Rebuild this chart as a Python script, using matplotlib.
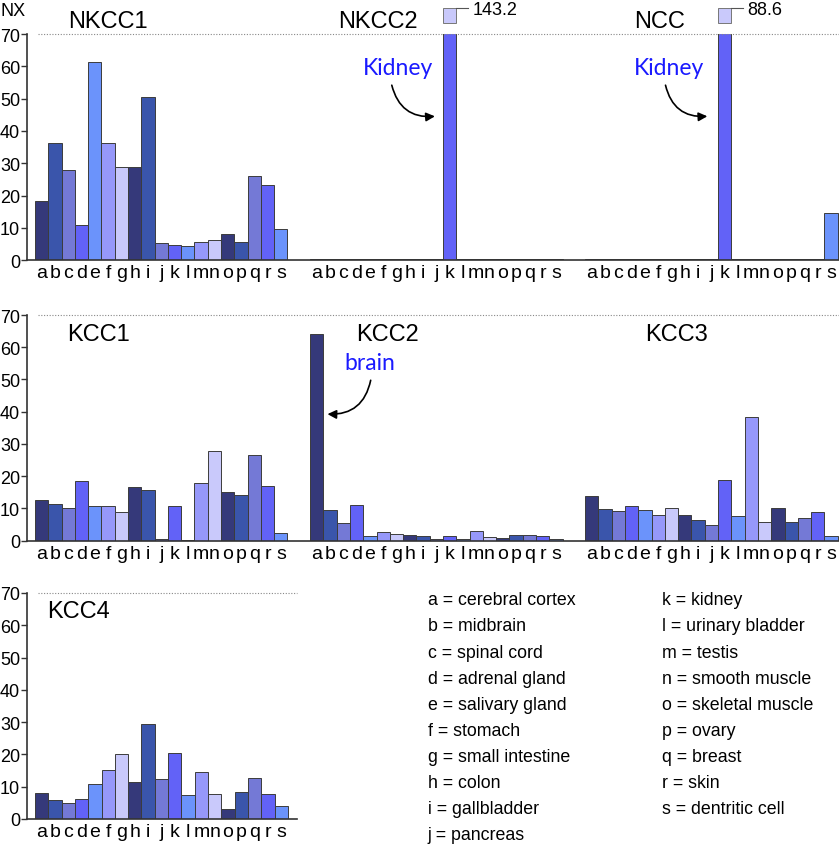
#!/usr/bin/env python3
# -*- coding: utf-8 -*-
"""
NX expression of the cation-chloride cotransporters across tissues
(NKCC1, NKCC2, NCC, KCC1-4), one block of bars per gene.
"""

import numpy as np
import matplotlib.pyplot as plt

plt.rcParams['font.family'] = ['Liberation Sans', 'DejaVu Sans']

# tissue letters and names
tissues = list('abcdefghijklmnopqrs')
tissue_names = ['cerebral cortex', 'midbrain', 'spinal cord', 'adrenal gland',
                'salivary gland', 'stomach', 'small intestine', 'colon',
                'gallbladder', 'pancreas', 'kidney', 'urinary bladder',
                'testis', 'smooth muscle', 'skeletal muscle', 'ovary',
                'breast', 'skin', 'dentritic cell']

# NX values
nkcc1 = [18.4, 36.2, 27.8, 10.9, 61.3, 36.4, 28.7, 28.7, 50.4, 5.3,
         4.6, 4.3, 5.5, 6.2, 8.1, 5.6, 26.0, 23.2, 9.7]
nkcc2 = [0.2, 0.4, 0.4, 0.4, 0.3, 0.2, 0.2, 0.2, 0.2, 0.2,
         143.2, 0.4, 0.4, 0.2, 0.2, 0.3, 0.3, 0.2, 0.2]
ncc = [0.2, 0.3, 0.4, 0.4, 0.3, 0.2, 0.2, 0.2, 0.2, 0.2,
       88.6, 0.4, 0.4, 0.2, 0.2, 0.2, 0.2, 0.2, 14.5]
kcc1 = [12.7, 11.4, 10.0, 18.4, 10.9, 10.9, 8.8, 16.5, 15.6, 0.6,
        10.8, 0.2, 17.8, 27.8, 15.0, 14.2, 26.6, 16.9, 2.4]
kcc2 = [64.1, 9.5, 5.6, 11.0, 1.4, 2.6, 2.0, 1.9, 1.4, 0.5,
        1.4, 0.5, 2.9, 1.0, 0.8, 1.9, 1.7, 1.3, 0.5]
kcc3 = [14.0, 9.7, 9.2, 10.9, 9.4, 7.9, 10.0, 7.9, 6.5, 5.0,
        18.7, 7.5, 38.3, 5.9, 10.2, 5.9, 7.0, 8.8, 1.3]
kcc4 = [8.2, 5.8, 4.9, 6.3, 10.8, 15.1, 20.1, 11.3, 29.3, 12.4,
        20.4, 7.3, 14.5, 7.7, 3.0, 8.3, 12.7, 7.7, 4.0]

# palette repeats every 7 tissues
cores = ['#35397a', '#3a55ab', '#7479d6', '#6262f7', '#6b93fb', '#9698fa', '#c9c9fb']

GAP = 20.7      # offset between gene blocks (in bar widths)
Y_MAX = 70
AZUL = '#1a1aff'


def painel(ax, genes, titulos, tit_x, tit_y, x_max):
    ax.set_xlim(-1.1, x_max)
    ax.set_ylim(0, Y_MAX)
    for s in ['top', 'right']:
        ax.spines[s].set_visible(False)
    for s in ['left', 'bottom']:
        ax.spines[s].set_color('#333333')
        ax.spines[s].set_linewidth(1.2)

    ticks, labels = [], []
    for i, vals in enumerate(genes):
        x = np.arange(len(vals)) + i * GAP
        ax.bar(x, vals, width=1.0, color=[cores[j % 7] for j in range(len(vals))],
               edgecolor='#3c3c3c', linewidth=0.7)
        ax.text(tit_x[i] + i * GAP, tit_y, titulos[i], fontsize=17,
                ha='center', va='center', clip_on=False)
        ticks += list(x)
        labels += tissues

    ax.set_xticks(ticks)
    ax.set_xticklabels(labels, fontsize=14)
    ax.tick_params(axis='x', length=0, pad=3)
    ax.set_yticks(range(0, 71, 10))
    ax.tick_params(axis='y', labelsize=13, length=4, width=1, color='#333333', pad=1)
    # dotted reference line at the top of the scale
    ax.hlines(Y_MAX, -0.3, x_max, colors='#888888', linestyles=(0, (1, 1.5)),
              linewidth=0.8, clip_on=False)


def quebra(ax, x, rotulo):
    # little key box above an off-scale bar with its true value
    ax.bar(x, 4.6, bottom=73.4, width=1.0, color=cores[6], edgecolor='#777777',
           linewidth=0.7, clip_on=False)
    ax.plot([x + 0.5, x + 1.4], [78, 78], color='#555555', lw=0.8, clip_on=False)
    ax.text(x + 1.7, 77.7, rotulo, fontsize=13, va='center', ha='left')


def seta(ax, txt, txt_xy, ini, fim, rad):
    ax.text(txt_xy[0], txt_xy[1], txt, color=AZUL, fontsize=16.5, family='Lato',
            ha='center', va='center')
    ax.annotate('', xy=fim, xytext=ini,
                arrowprops=dict(arrowstyle='-|>', color='black', lw=1.2,
                                mutation_scale=13,
                                connectionstyle=f'arc3,rad={rad}'))


def main():
    fig = plt.figure(figsize=(8.39, 8.45), dpi=100)

    ax1 = fig.add_axes([0.0322, 0.691, 0.9678, 0.2675])
    painel(ax1, [nkcc1, nkcc2, ncc], ['NKCC1', 'NKCC2', 'NCC'],
           [5.0, 4.6, 5.1], 74, 60.0)
    quebra(ax1, GAP + 10, '143.2')
    quebra(ax1, 2 * GAP + 10, '88.6')
    seta(ax1, 'Kidney', (26.8, 59.8), (26.3, 55.0), (29.8, 44.6), 0.45)
    seta(ax1, 'Kidney', (47.2, 59.8), (46.9, 55.0), (50.3, 44.6), 0.45)

    ax2 = fig.add_axes([0.0322, 0.359, 0.9678, 0.267])
    painel(ax2, [kcc1, kcc2, kcc3], ['KCC1', 'KCC2', 'KCC3'],
           [4.3, 5.3, 6.4], 64.2, 60.0)
    seta(ax2, 'brain', (24.7, 55.2), (24.8, 50.6), (21.3, 39.3), -0.45)

    ax3 = fig.add_axes([0.0322, 0.0296, 0.322, 0.2675])
    painel(ax3, [kcc4], ['KCC4'], [2.8], 64.4, 19.2)

    fig.text(0.0, 1 - 12 / 845, 'NX', fontsize=13, va='center', ha='left')

    # legend of tissue letters, two columns
    for i, (t, nome) in enumerate(zip(tissues, tissue_names)):
        col = 0 if i < 10 else 1
        lin = i if i < 10 else i - 10
        fig.text([0.510, 0.789][col], 0.2888 - lin * 0.0308, f'{t} = {nome}',
                 fontsize=12.8, va='center', ha='left')

    fig.savefig('out.png', dpi=100)


if __name__ == '__main__':
    main()
